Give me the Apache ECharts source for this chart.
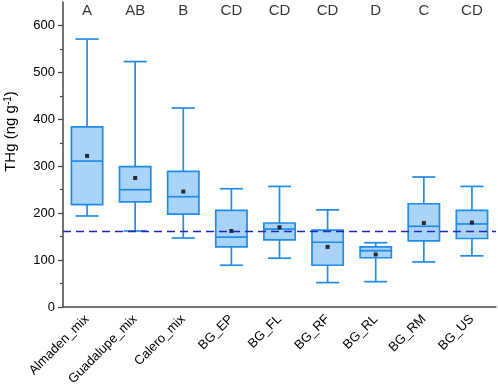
<!DOCTYPE html>
<html>
<head>
<meta charset="utf-8">
<script src="https://cdn.jsdelivr.net/npm/echarts@6/dist/echarts.min.js"></script>
<style>
  html, body { margin: 0; padding: 0; background: #fff; }
  #chart { width: 498px; height: 385px; }
</style>
</head>
<body>
<div id="chart"></div>
<script>
// categories and box statistics (ng/g)
const categories = ["Almaden_mix", "Guadalupe_mix", "Calero_mix", "BG_EP", "BG_FL", "BG_RF", "BG_RL", "BG_RM", "BG_US"];
const lowWhisker = [194, 162, 147, 89, 104, 52, 54, 96, 109];
const q1 = [218, 224, 198, 128, 143, 89, 105, 141, 146];
const median = [311, 250, 235, 149, 166, 138, 120, 172, 177];
const q3 = [384, 299, 289, 206, 179, 164, 128, 220, 206];
const highWhisker = [571, 523, 424, 252, 257, 207, 137, 277, 257];
const means = [322, 275, 246, 162, 170, 128, 112, 179, 180];
const groupLetters = ["A", "AB", "B", "CD", "CD", "CD", "D", "C", "CD"];
const referenceLine = 162;
const majorTicks = [0, 100, 200, 300, 400, 500, 600];
const minorTicks = [50, 150, 250, 350, 450, 550];

const boxColor = "#1f8ceb";
const boxFill = "#a9d3f7";

const chart = echarts.init(document.getElementById("chart"));

function renderBox(params, api) {
  const idx = api.value(0);
  const band = api.size([1, 0])[0];
  const boxW = band * 0.65;
  const capW = band * 0.48;
  const pLow = api.coord([idx, api.value(1)]);
  const pQ1 = api.coord([idx, api.value(2)]);
  const pMed = api.coord([idx, api.value(3)]);
  const pQ3 = api.coord([idx, api.value(4)]);
  const pHigh = api.coord([idx, api.value(5)]);
  const x = pMed[0];
  const line = { stroke: boxColor, lineWidth: 1.7 };
  return {
    type: "group",
    children: [
      { type: "line", shape: { x1: x, y1: pQ3[1], x2: x, y2: pHigh[1] }, style: line },
      { type: "line", shape: { x1: x, y1: pQ1[1], x2: x, y2: pLow[1] }, style: line },
      { type: "line", shape: { x1: x - capW / 2, y1: pHigh[1], x2: x + capW / 2, y2: pHigh[1] }, style: line },
      { type: "line", shape: { x1: x - capW / 2, y1: pLow[1], x2: x + capW / 2, y2: pLow[1] }, style: line },
      {
        type: "rect",
        shape: { x: x - boxW / 2, y: pQ3[1], width: boxW, height: pQ1[1] - pQ3[1] },
        style: { fill: boxFill, stroke: boxColor, lineWidth: 1.7 }
      },
      { type: "line", shape: { x1: x - boxW / 2, y1: pMed[1], x2: x + boxW / 2, y2: pMed[1] }, style: line }
    ]
  };
}

chart.setOption({
  animation: false,
  textStyle: { fontFamily: "Liberation Sans, Arial, sans-serif" },
  grid: { left: 63, right: 2, top: 2, bottom: 78, containLabel: false, outerBoundsMode: "none" },
  xAxis: {
    type: "category",
    data: categories,
    boundaryGap: true,
    axisLine: { lineStyle: { color: "#444", width: 1.5 } },
    axisTick: { alignWithLabel: true, length: 5, lineStyle: { color: "#444", width: 1.2 } },
    axisLabel: { rotate: 45, color: "#000", fontSize: 13, margin: 10, interval: 0 }
  },
  yAxis: [
    {
      type: "value",
      min: 0,
      max: 650,
      name: "THg (ng g{sup|-1})",
      nameLocation: "middle",
      nameGap: 44,
      nameRotate: 90,
      nameTextStyle: {
        color: "#000",
        fontSize: 15,
        padding: [0, 0, 0, 46],
        rich: { sup: { fontSize: 10, verticalAlign: "top", padding: [0, 0, 6, 0], color: "#000" } }
      },
      splitLine: { show: false },
      axisLine: { show: true, lineStyle: { color: "#444", width: 1.5 } },
      axisTick: { show: true, length: 5, customValues: majorTicks, lineStyle: { color: "#444", width: 1.2 } },
      axisLabel: { color: "#000", fontSize: 13, margin: 8, customValues: majorTicks }
    },
    {
      type: "value",
      min: 0,
      max: 650,
      position: "left",
      splitLine: { show: false },
      axisLine: { show: false },
      axisTick: { show: true, length: 3, customValues: minorTicks, lineStyle: { color: "#444", width: 1.2 } },
      axisLabel: { show: false }
    }
  ],
  series: [
    {
      type: "custom",
      renderItem: renderBox,
      encode: { x: 0, y: [1, 2, 3, 4, 5] },
      data: categories.map((c, i) => [i, lowWhisker[i], q1[i], median[i], q3[i], highWhisker[i]]),
      markLine: {
        silent: true,
        symbol: "none",
        label: { show: false },
        lineStyle: { color: "#2525b5", type: [8, 5], width: 1.4 },
        data: [{ yAxis: referenceLine }]
      },
      z: 2
    },
    {
      type: "scatter",
      symbol: "rect",
      symbolSize: 4,
      itemStyle: { color: "#000" },
      data: categories.map((c, i) => [i, means[i]]),
      z: 4
    },
    {
      type: "scatter",
      symbolSize: 0,
      silent: true,
      label: {
        show: true,
        position: "inside",
        color: "#000",
        fontSize: 15,
        formatter: p => groupLetters[p.dataIndex]
      },
      data: categories.map((c, i) => [i, 632])
    }
  ]
});
</script>
</body>
</html>
